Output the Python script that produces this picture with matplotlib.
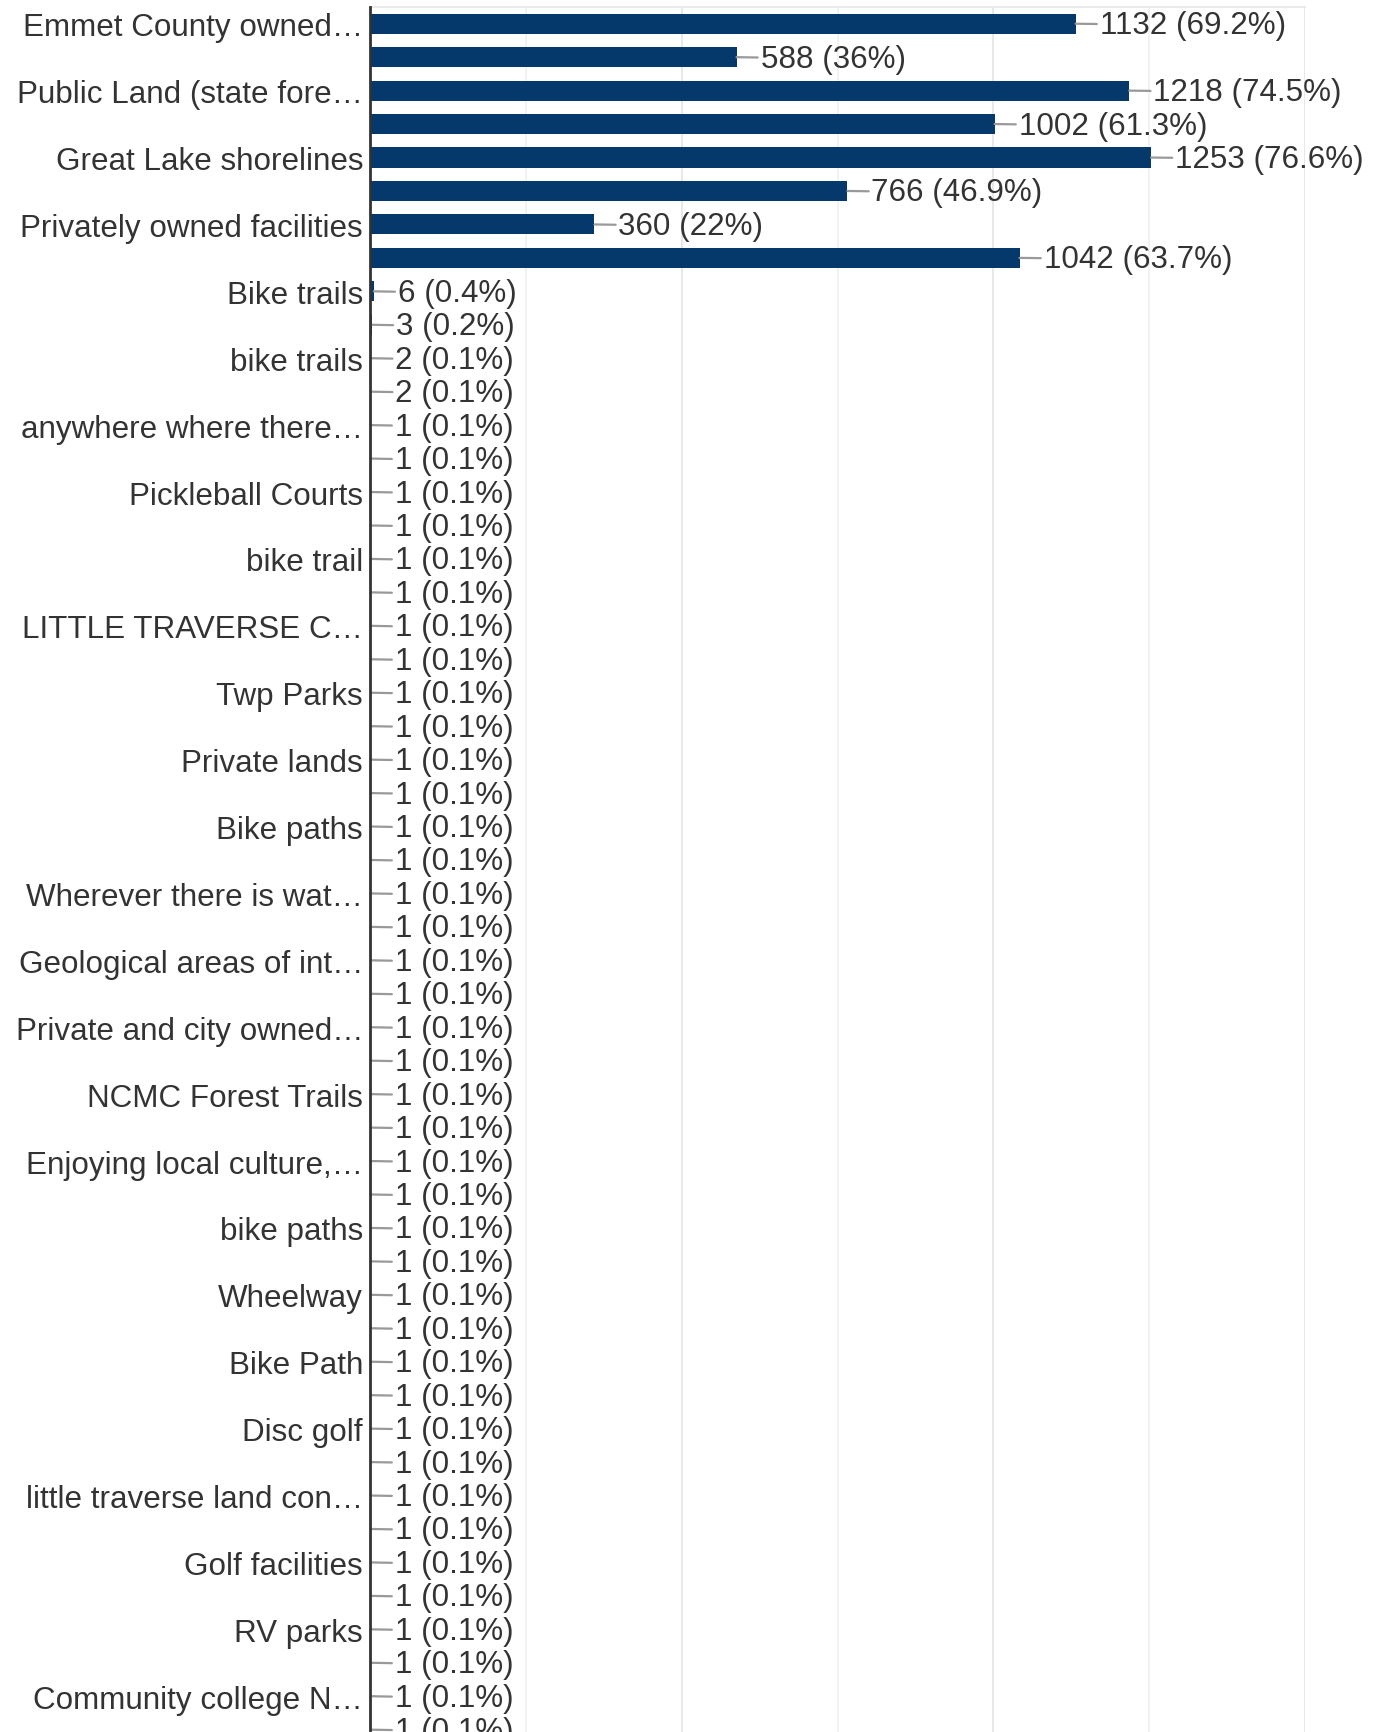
import matplotlib.pyplot as plt
from matplotlib.ticker import MultipleLocator

plt.rcParams['font.family'] = ['Liberation Sans', 'DejaVu Sans']

# only every other category label is shown in the chart
labels = [
    "Emmet County owned…", "", "Public Land (state fore…", "", "Great Lake shorelines", "",
    "Privately owned facilities", "", "Bike trails", "", "bike trails", "",
    "anywhere where there…", "", "Pickleball Courts", "", "bike trail", "",
    "LITTLE TRAVERSE C…", "", "Twp Parks", "", "Private lands", "", "Bike paths", "",
    "Wherever there is wat…", "", "Geological areas of int…", "", "Private and city owned…", "",
    "NCMC Forest Trails", "", "Enjoying local culture,…", "", "bike paths", "", "Wheelway", "",
    "Bike Path", "", "Disc golf", "", "little traverse land con…", "", "Golf facilities", "",
    "RV parks", "", "Community college N…", "",
]
counts = [1132, 588, 1218, 1002, 1253, 766, 360, 1042, 6, 3, 2, 2] + [1] * 40
percents = ["69.2", "36", "74.5", "61.3", "76.6", "46.9", "22", "63.7",
            "0.4", "0.2", "0.1", "0.1"] + ["0.1"] * 40

BAR = "#05386b"
TEXT = "#333333"

W, H = 1379, 1733
fig = plt.figure(figsize=(W / 100, H / 100), dpi=100)
row_px = 33.45
n = len(counts)
top_px = 8
left_px, right_px = 370, 1305
ax_h = n * row_px
ax = fig.add_axes([left_px / W, (H - top_px - ax_h) / H, (right_px - left_px) / W, ax_h / H])

y = list(range(n))
ax.barh(y, counts, height=0.6, color=BAR, zorder=3)
ax.set_ylim(n - 0.5, -0.5)
ax.set_xlim(0, 1500)

for i, (v, p) in enumerate(zip(counts, percents)):
    ax.annotate(f"{v} ({p}%)", xy=(v, i), xytext=(24, -1.5), textcoords="offset pixels",
                va="center", ha="left", fontsize=22.6, color=TEXT, annotation_clip=False,
                arrowprops=dict(arrowstyle="-", color="#999999", lw=1.6, shrinkA=0, shrinkB=0))

ax.set_yticks(y)
ax.set_yticklabels(labels, fontsize=22.6, color=TEXT)
ax.tick_params(axis="y", length=0, pad=5)

ax.xaxis.set_major_locator(MultipleLocator(500))
ax.xaxis.set_minor_locator(MultipleLocator(250))
ax.tick_params(axis="x", which="both", length=0, labelbottom=False)
ax.grid(axis="x", which="major", color="#e4e4e4", lw=1.2, zorder=0)
ax.grid(axis="x", which="minor", color="#f0f0f0", lw=1.2, zorder=0)

for side in ("right", "bottom"):
    ax.spines[side].set_visible(False)
ax.spines["top"].set_color("#e8e8e8")
ax.spines["top"].set_linewidth(1.2)
ax.spines["left"].set_color("#333333")
ax.spines["left"].set_linewidth(2)
ax.spines["left"].set_zorder(4)

fig.savefig("out.png", dpi=100)
